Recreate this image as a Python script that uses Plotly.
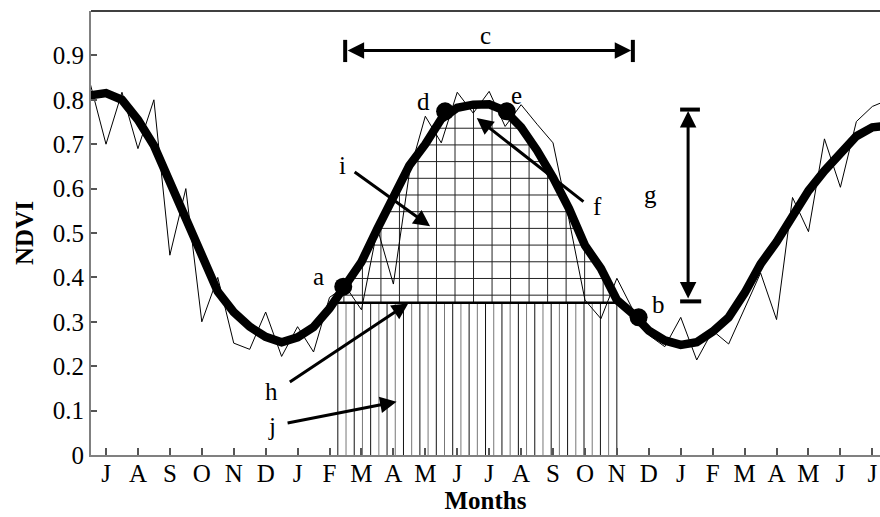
import numpy as np
import plotly.graph_objects as go

# month tick labels, one per month index 0..24
months = ["J", "A", "S", "O", "N", "D", "J", "F", "M", "A", "M", "J",
          "J", "A", "S", "O", "N", "D", "J", "F", "M", "A", "M", "J", "J"]

# composite period (in months from the first July) and NDVI values
period = [-0.5, 0.0, 0.5, 1.0, 1.5, 2.0, 2.5, 3.0, 3.5, 4.0, 4.5, 5.0, 5.5,
          6.0, 6.5, 7.0, 7.5, 8.0, 8.5, 9.0, 9.5, 10.0, 10.5, 11.0, 11.5,
          12.0, 12.5, 13.0, 13.5, 14.0, 14.5, 15.0, 15.5, 16.0, 16.5, 17.0,
          17.5, 18.0, 18.5, 19.0, 19.5, 20.0, 20.5, 21.0, 21.5, 22.0, 22.5,
          23.0, 23.5, 24.0, 24.5]
ndvi_raw = [0.838, 0.70, 0.817, 0.69, 0.80, 0.45, 0.60, 0.30, 0.40, 0.252,
            0.238, 0.322, 0.222, 0.289, 0.232, 0.355, 0.38, 0.327, 0.51,
            0.385, 0.635, 0.763, 0.703, 0.817, 0.77, 0.819, 0.74, 0.789,
            0.745, 0.703, 0.53, 0.349, 0.307, 0.398, 0.327, 0.27, 0.244,
            0.31, 0.214, 0.28, 0.25, 0.33, 0.41, 0.305, 0.58, 0.503, 0.712,
            0.603, 0.751, 0.785, 0.80]
ndvi_smooth = [0.81, 0.815, 0.80, 0.755, 0.697, 0.613, 0.533, 0.447, 0.368,
               0.322, 0.289, 0.266, 0.254, 0.265, 0.288, 0.33, 0.385, 0.435,
               0.51, 0.578, 0.652, 0.70, 0.757, 0.782, 0.789, 0.79, 0.775,
               0.738, 0.686, 0.625, 0.555, 0.472, 0.42, 0.349, 0.318, 0.28,
               0.258, 0.248, 0.254, 0.278, 0.31, 0.365, 0.43, 0.48, 0.535,
               0.595, 0.64, 0.68, 0.718, 0.738, 0.742]

# phenology points
pheno_labels = ["a", "d", "e", "b"]
pheno_x = [7.43, 10.62, 12.55, 16.68]
pheno_y = [0.379, 0.774, 0.774, 0.31]

base_level = 0.343
season_start = 7.26
season_end = 16.0

FONT = "Liberation Serif"

fig = go.Figure()

# lower hatch: vertical lines from 0 to the base level
lower_x = np.arange(season_start, season_end + 0.01, 0.257)
for k, col in enumerate(["#111111", "#777777"]):
    xs, ys = [], []
    for x in lower_x[k::2]:
        xs += [x, x, None]
        ys += [0, base_level, None]
    fig.add_trace(go.Scatter(x=xs, y=ys, mode="lines",
                             line=dict(color=col, width=1), hoverinfo="skip"))

# upper hatch: grid between base level and the smoothed curve
dense = np.linspace(season_start, season_end, 4000)
curve = np.interp(dense, period, ndvi_smooth)
xs, ys = [], []
for lev in np.arange(0.36, 0.75, 0.0376):
    inside = dense[curve >= lev]
    if len(inside):
        xs += [inside.min(), inside.max(), None]
        ys += [lev, lev, None]
for x in np.arange(7.45, season_end, 0.58):
    top = np.interp(x, period, ndvi_smooth)
    if top > base_level:
        xs += [x, x, None]
        ys += [base_level, top, None]
fig.add_trace(go.Scatter(x=xs, y=ys, mode="lines",
                         line=dict(color="#222222", width=1), hoverinfo="skip"))

# base level line
fig.add_trace(go.Scatter(x=[season_start, season_end], y=[base_level, base_level],
                         mode="lines", line=dict(color="black", width=2.5)))

# raw and smoothed NDVI
fig.add_trace(go.Scatter(x=period, y=ndvi_raw, mode="lines",
                         line=dict(color="black", width=1)))
fig.add_trace(go.Scatter(x=period, y=ndvi_smooth, mode="lines",
                         line=dict(color="black", width=8.5)))

fig.add_trace(go.Scatter(x=pheno_x, y=pheno_y, mode="markers",
                         marker=dict(color="black", size=18, symbol="circle")))

ann = []
txt = dict(font=dict(family=FONT, size=25, color="black"), showarrow=False,
           xref="x", yref="y")
label_pos = {"a": (6.65, 0.402), "d": (9.94, 0.796), "e": (12.86, 0.81),
             "b": (17.3, 0.338), "c": (11.87, 0.945), "g": (17.04, 0.586),
             "f": (15.4, 0.56), "i": (7.4, 0.652), "h": (5.19, 0.143),
             "j": (5.19, 0.064)}
for t, (lx, ly) in label_pos.items():
    ann.append(dict(x=lx, y=ly, text=t, **txt))

arrow = dict(showarrow=True, text="", xref="x", yref="y", axref="x", ayref="y",
             arrowhead=2, arrowsize=1.1, arrowwidth=3, arrowcolor="black")
# f, i, h, j single arrows: (tip_x, tip_y, tail_x, tail_y)
for tx, ty, sx, sy in [(11.61, 0.759, 15.0, 0.568),
                       (10.15, 0.515, 7.74, 0.64),
                       (9.47, 0.342, 5.71, 0.162),
                       (9.1, 0.12, 5.64, 0.0715)]:
    ann.append(dict(x=tx, y=ty, ax=sx, ay=sy, **arrow))
# c and g double arrows
ann.append(dict(x=16.45, y=0.911, ax=7.52, ay=0.911, arrowside="end+start",
                startarrowhead=2, startarrowsize=1.1, **arrow))
ann.append(dict(x=18.23, y=0.775, ax=18.23, ay=0.349, arrowside="end+start",
                startarrowhead=2, startarrowsize=1.1, **arrow))

shapes = [
    dict(type="line", xref="x", yref="y", x0=7.49, x1=7.49, y0=0.885, y1=0.935,
         line=dict(color="black", width=4)),
    dict(type="line", xref="x", yref="y", x0=16.5, x1=16.5, y0=0.885, y1=0.935,
         line=dict(color="black", width=4)),
    dict(type="line", xref="x", yref="y", x0=17.98, x1=18.6, y0=0.778, y1=0.778,
         line=dict(color="black", width=4)),
    dict(type="line", xref="x", yref="y", x0=17.98, x1=18.64, y0=0.346, y1=0.346,
         line=dict(color="black", width=4)),
    dict(type="line", xref="paper", yref="paper", x0=0, x1=1, y0=1, y1=1,
         line=dict(color="black", width=1.5)),
]

fig.update_layout(
    width=880, height=517,
    margin=dict(l=91, r=0, t=11, b=62),
    plot_bgcolor="white", paper_bgcolor="white",
    showlegend=False,
    font=dict(family=FONT, size=25, color="black"),
    annotations=ann, shapes=shapes,
)
fig.update_xaxes(
    range=[-0.47, 24.24], tickvals=list(range(len(months))), ticktext=months,
    ticks="inside", ticklen=7, tickwidth=1.5, tickcolor="#555555",
    showline=True, linecolor="#808080", linewidth=2, showgrid=False,
    zeroline=False, tickfont=dict(size=25), automargin=False,
    ticklabelstandoff=-5,
    title=dict(text="<b>Months</b>", standoff=0, font=dict(size=25)),
)
fig.update_yaxes(
    range=[0, 1.0], tickvals=[0, 0.1, 0.2, 0.3, 0.4, 0.5, 0.6, 0.7, 0.8, 0.9],
    ticktext=["0", "0.1", "0.2", "0.3", "0.4", "0.5", "0.6", "0.7", "0.8", "0.9"],
    ticks="inside", ticklen=6, tickwidth=1.5, tickcolor="#555555",
    showline=True, linecolor="#808080", linewidth=2, showgrid=False,
    zeroline=False, tickfont=dict(size=25), automargin=False,
    title=dict(text="<b>NDVI</b>", standoff=12, font=dict(size=25)),
)

# the page body has a default margin that would shift the figure
fig.write_html("out.html", config={"displayModeBar": False},
               post_script="document.body.style.margin='0';")
